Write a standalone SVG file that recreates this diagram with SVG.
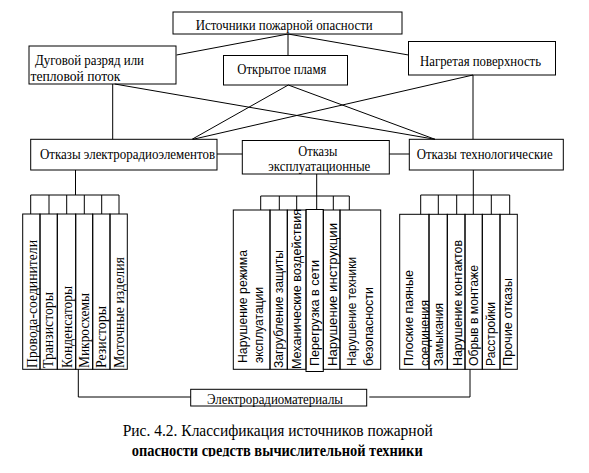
<svg xmlns="http://www.w3.org/2000/svg" width="589" height="473" viewBox="0 0 589 473">
<style>
.b{fill:none;stroke:#000;stroke-width:1}
.c{fill:none;stroke:#000;stroke-width:1}
.s{font-family:"Liberation Serif","Times New Roman",serif;font-size:14px;fill:#000}
.a{font-family:"Liberation Sans",Arial,sans-serif;font-size:12.5px;fill:#000}
</style>
<defs>
<clipPath id="capclip"><rect x="0" y="440" width="589" height="16.5"/></clipPath>
</defs>
<rect width="589" height="473" fill="#fff"/>
<g id="connectors">
<path class="c" d="M288,34 L176.5,55 M288,34 V55.5 M288,34 L408.5,55 M114.7,84 L435,139.3 M112.7,84 V139.3 M288.3,85 L192,139.3 M288.3,85 L435,139.3 M473,75 L193,139.3 M473,75 V139.3 M217,154 H242.3 M389.3,154 H409.3"/>
<path class="c" d="M75.5,170 V195 M30.7,195 H119 M30.7,195 V214 M49,195 V214 M66.7,195 V214 M84.3,195 V214 M101.7,195 V214 M119,195 V214"/>
<path class="c" d="M316.7,174 V196 M260.7,196 H349.3 M260.7,196 V210 M279.3,196 V210 M296.7,196 V210 M316.7,196 V210 M333.3,196 V210 M349.3,196 V210"/>
<path class="c" d="M473.3,170 V195 M420.7,195 H509.7 M420.7,195 V214.3 M438.3,195 V214.3 M456.7,195 V214.3 M473.3,195 V214.3 M491.3,195 V214.3 M509.7,195 V214.3"/>
<path class="c" d="M78.3,369.3 V397 H190.7 M369.3,397 H470 V369.3"/>
</g>
<g id="n-sources">
<rect class="b" x="173" y="12" width="229" height="22"/>
<text class="s" x="195.7" y="30" textLength="177" lengthAdjust="spacingAndGlyphs">Источники пожарной опасности</text>
</g>
<g id="n-arc">
<rect class="b" x="29" y="46" width="147" height="38"/>
<text class="s" x="35" y="65" textLength="109" lengthAdjust="spacingAndGlyphs">Дуговой разряд или</text>
<text class="s" x="30.5" y="81" textLength="90" lengthAdjust="spacingAndGlyphs">тепловой поток</text>
</g>
<g id="n-flame">
<rect class="b" x="223.5" y="55.5" width="124" height="29.5"/>
<text class="s" x="237.3" y="74" textLength="89" lengthAdjust="spacingAndGlyphs">Открытое пламя</text>
</g>
<g id="n-hot">
<rect class="b" x="408.5" y="41.5" width="147" height="33.5"/>
<text class="s" x="420" y="66" textLength="121" lengthAdjust="spacingAndGlyphs">Нагретая поверхность</text>
</g>
<g id="n-elem">
<rect class="b" x="30.7" y="139.3" width="186.3" height="30.7"/>
<text class="s" x="40" y="159.3" textLength="175" lengthAdjust="spacingAndGlyphs">Отказы электрорадиоэлементов</text>
</g>
<g id="n-oper">
<rect class="b" x="242.3" y="140.5" width="147" height="33.5"/>
<text class="s" x="298.3" y="156" textLength="39" lengthAdjust="spacingAndGlyphs">Отказы</text>
<text class="s" x="268.3" y="171" textLength="102" lengthAdjust="spacingAndGlyphs">эксплуатационные</text>
</g>
<g id="n-tech">
<rect class="b" x="409.3" y="139.3" width="154" height="30.7"/>
<text class="s" x="416.7" y="159.3" textLength="136" lengthAdjust="spacingAndGlyphs">Отказы технологические</text>
</g>
<g id="g-elem">
<rect class="b" x="22.7" y="214" width="17.3" height="155.3"/>
<rect class="b" x="40" y="214" width="17.3" height="155.3"/>
<rect class="b" x="57.3" y="214" width="18.4" height="155.3"/>
<rect class="b" x="75.7" y="214" width="17" height="155.3"/>
<rect class="b" x="92.7" y="214" width="17.3" height="155.3"/>
<rect class="b" x="110" y="214" width="17.3" height="155.3"/>
<text class="s" transform="translate(37,368) rotate(-90)" textLength="128" lengthAdjust="spacingAndGlyphs">Провода-соединители</text>
<text class="s" transform="translate(53,368) rotate(-90)" textLength="76" lengthAdjust="spacingAndGlyphs">Транзисторы</text>
<text class="s" transform="translate(72,368) rotate(-90)" textLength="82" lengthAdjust="spacingAndGlyphs">Конденсаторы</text>
<text class="s" transform="translate(89.3,368) rotate(-90)" textLength="75" lengthAdjust="spacingAndGlyphs">Микросхемы</text>
<text class="s" transform="translate(106,368) rotate(-90)" textLength="62" lengthAdjust="spacingAndGlyphs">Резисторы</text>
<text class="s" transform="translate(124.3,368) rotate(-90)" textLength="111" lengthAdjust="spacingAndGlyphs">Моточные изделия</text>
</g>
<g id="g-oper">
<rect class="b" x="233.3" y="210" width="36.7" height="159.3"/>
<rect class="b" x="270" y="210" width="17.3" height="159.3"/>
<rect class="b" x="287.3" y="210" width="18.7" height="159.3"/>
<rect class="b" x="306" y="209.5" width="17.3" height="162"/>
<rect class="b" x="323.3" y="210" width="16.7" height="159.3"/>
<rect class="b" x="340" y="210" width="40.7" height="159.3"/>
<text class="a" transform="translate(246.6,363) rotate(-90)" textLength="113" lengthAdjust="spacingAndGlyphs">Нарушение режима</text>
<text class="a" transform="translate(262.7,363) rotate(-90)" textLength="76" lengthAdjust="spacingAndGlyphs">эксплуатации</text>
<text class="a" transform="translate(283.3,368) rotate(-90)" textLength="118" lengthAdjust="spacingAndGlyphs">Загрубление защиты</text>
<text class="a" transform="translate(301,369) rotate(-90)" textLength="160" lengthAdjust="spacingAndGlyphs">Механические воздействия</text>
<text class="a" transform="translate(319.3,366) rotate(-90)" textLength="106" lengthAdjust="spacingAndGlyphs">Перегрузка в сети</text>
<text class="a" transform="translate(337.3,366) rotate(-90)" textLength="143" lengthAdjust="spacingAndGlyphs">Нарушение инструкции</text>
<text class="a" transform="translate(356,366) rotate(-90)" textLength="109" lengthAdjust="spacingAndGlyphs">Нарушение техники</text>
<text class="a" transform="translate(372.5,366) rotate(-90)" textLength="79" lengthAdjust="spacingAndGlyphs">безопасности</text>
</g>
<g id="g-tech">
<rect class="b" x="399.7" y="214.3" width="29.3" height="155"/>
<rect class="b" x="429" y="214.3" width="18.3" height="155"/>
<rect class="b" x="447.3" y="214.3" width="17.7" height="155"/>
<rect class="b" x="465" y="214.3" width="17.3" height="155"/>
<rect class="b" x="482.3" y="214.3" width="17.7" height="155"/>
<rect class="b" x="500" y="214.3" width="17.3" height="155"/>
<text class="a" transform="translate(413.3,366) rotate(-90)" textLength="96" lengthAdjust="spacingAndGlyphs">Плоские паяные</text>
<text class="a" transform="translate(429,366) rotate(-90)" textLength="66" lengthAdjust="spacingAndGlyphs">соединения</text>
<text class="a" transform="translate(442.6,366) rotate(-90)" textLength="63" lengthAdjust="spacingAndGlyphs">Замыкания</text>
<text class="a" transform="translate(461.6,366) rotate(-90)" textLength="126" lengthAdjust="spacingAndGlyphs">Нарушение контактов</text>
<text class="a" transform="translate(478.3,366) rotate(-90)" textLength="101" lengthAdjust="spacingAndGlyphs">Обрыв в монтаже</text>
<text class="a" transform="translate(495,366) rotate(-90)" textLength="64" lengthAdjust="spacingAndGlyphs">Расстройки</text>
<text class="a" transform="translate(511.6,366) rotate(-90)" textLength="88" lengthAdjust="spacingAndGlyphs">Прочие отказы</text>
</g>
<g id="n-materials">
<rect class="b" x="190.7" y="389.3" width="176" height="16.7"/>
<text class="s" x="207" y="403.5" textLength="136" lengthAdjust="spacingAndGlyphs">Электрорадиоматериалы</text>
</g>
<g id="caption">
<text class="s" x="122.7" y="435.5" style="font-size:17px" textLength="310" lengthAdjust="spacingAndGlyphs">Рис. 4.2. Классификация источников пожарной</text>
<text class="s" x="131.7" y="456" style="font-size:16px;font-weight:bold" clip-path="url(#capclip)" textLength="291" lengthAdjust="spacingAndGlyphs">опасности средств вычислительной техники</text>
</g>
</svg>
